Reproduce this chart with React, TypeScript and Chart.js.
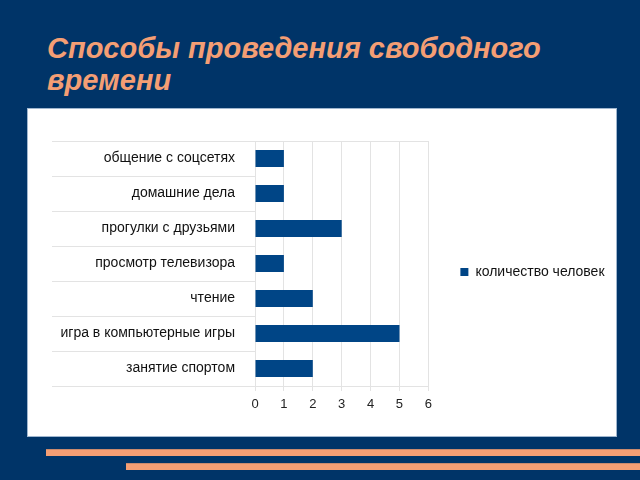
import React, { useEffect, useRef } from "react";
import { Chart, registerables } from "chart.js";

Chart.register(...registerables);

const categories = [
  "общение с соцсетях",
  "домашние дела",
  "прогулки с друзьями",
  "просмотр телевизора",
  "чтение",
  "игра в компьютерные игры",
  "занятие спортом",
];
const seriesName = "количество человек";
const values = [1, 1, 3, 1, 2, 5, 2];
const xTicks = [0, 1, 2, 3, 4, 5, 6];

const BG = "#003468";
const ORANGE = "#f49e74";
const BAR = "#004586";
const GRID = "#e3e3e3";
const FONT = '"Liberation Sans", Arial, sans-serif';

function BarChart() {
  const ref = useRef<HTMLCanvasElement | null>(null);
  useEffect(() => {
    if (!ref.current) return;
    const n = categories.length;
    const chart = new Chart(ref.current, {
      type: "bar",
      data: {
        labels: categories,
        datasets: [
          {
            label: seriesName,
            data: values,
            backgroundColor: BAR,
            borderWidth: 0,
            barPercentage: 0.49,
            categoryPercentage: 1,
          },
        ],
      },
      options: {
        indexAxis: "y",
        responsive: false,
        animation: false,
        layout: { padding: { left: 24, top: 32, bottom: 17.4, right: 1.5 } },
        scales: {
          x: {
            min: xTicks[0],
            max: xTicks[xTicks.length - 1],
            afterBuildTicks: (s: any) => {
              s.ticks = xTicks.map((v) => ({ value: v }));
            },
            grid: { color: GRID, tickLength: 5, tickColor: GRID },
            border: { color: GRID },
            ticks: { color: "#222", padding: 6, font: { family: FONT, size: 13 } },
          },
          y: {
            offset: true,
            afterFit: (s: any) => {
              s.width = 203;
            },
            grid: {
              offset: true,
              tickLength: 203,
              tickColor: GRID,
              color: (ctx: any) =>
                ctx.index === 0 || ctx.index === n ? GRID : "rgba(0,0,0,0)",
            },
            border: { color: GRID },
            ticks: {
              color: "#111",
              padding: -183,
              autoSkip: false,
              font: { family: FONT, size: 14 },
            },
          },
        },
        plugins: {
          legend: {
            position: "right",
            fullSize: false,
            maxWidth: 300,
            title: { display: true, text: "", padding: 2.5, font: { size: 10 } },
            labels: {
              boxWidth: 8,
              boxHeight: 8,
              padding: 32,
              color: "#111",
              font: { family: FONT, size: 14 },
            },
          },
          tooltip: { enabled: false },
        },
      },
    });
    return () => chart.destroy();
  }, []);
  return <canvas ref={ref} width={588} height={327} style={{ display: "block" }} />;
}

export default function App() {
  return (
    <div style={{ position: "fixed", inset: 0, background: BG, overflow: "hidden" }}>
      <div
        style={{
          position: "absolute",
          left: 47,
          top: 32,
          color: ORANGE,
          font: `italic bold 29px ${FONT}`,
          lineHeight: "32px",
          whiteSpace: "nowrap",
        }}
      >
        Способы проведения свободного
        <br />
        времени
      </div>
      <div
        style={{
          position: "absolute",
          left: 28,
          top: 109,
          width: 588,
          height: 327,
          background: "#fff",
          boxShadow: "0 0 0 1px #9fb6cf",
        }}
      >
        <BarChart />
      </div>
      <div style={{ position: "absolute", left: 46, top: 449, right: 0, height: 6, background: ORANGE, borderTop: "1px solid #c98a6e" }} />
      <div style={{ position: "absolute", left: 126, top: 463, right: 0, height: 6, background: ORANGE, borderTop: "1px solid #c98a6e" }} />
    </div>
  );
}
